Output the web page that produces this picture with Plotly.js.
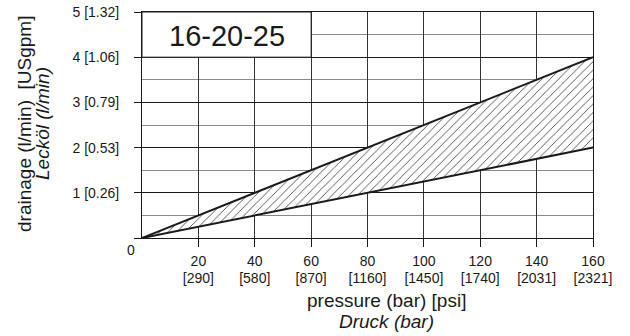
<!DOCTYPE html>
<html><head><meta charset="utf-8">
<script src="https://cdn.plot.ly/plotly-3.0.1.min.js"></script>
<style>html,body{margin:0;padding:0;background:#fff}#c{width:630px;height:336px}</style>
</head><body><div id="c"></div>
<script>
const pressure = [0, 160];
const upperFlow = [0, 4];
const lowerFlow = [0, 2];
const xTickVals = [20, 40, 60, 80, 100, 120, 140, 160];
const xTickBar = ['20', '40', '60', '80', '100', '120', '140', '160'];
const xTickPsi = ['[290]', '[580]', '[870]', '[1160]', '[1450]', '[1740]', '[2031]', '[2321]'];
const yTickVals = [0, 1, 2, 3, 4, 5];
const yTickText = ['', '1 [0.26]', '2 [0.53]', '3 [0.79]', '4 [1.06]', '5 [1.32]'];
const chartLabel = '16-20-25';
const xTitle1 = 'pressure (bar) [psi]';
const xTitle2 = 'Druck (bar)';
const yTitle1 = 'drainage (l/min)  [USgpm]';
const yTitle2 = 'Leckö' + 'l (l/min)';

const F = 'Liberation Sans, Arial, sans-serif';
const C = '#1a1a1a';
const traces = [
  {x: pressure, y: lowerFlow, mode: 'lines', line: {color: C, width: 2}, hoverinfo: 'skip'},
  {x: pressure, y: upperFlow, mode: 'lines', line: {color: C, width: 2}, fill: 'tonexty',
   fillcolor: 'rgba(0,0,0,0)',
   fillpattern: {shape: '/', size: 6, solidity: 0.12, fgcolor: C, bgcolor: 'white'}, hoverinfo: 'skip'},
  {x: pressure, y: lowerFlow, xaxis: 'x2', mode: 'lines', line: {width: 0}, opacity: 0, hoverinfo: 'skip'}
];
const layout = {
  width: 630, height: 336,
  margin: {l: 142, r: 37, t: 12, b: 98},
  paper_bgcolor: 'white', plot_bgcolor: 'white',
  showlegend: false,
  font: {family: F, size: 14, color: C},
  xaxis: {
    range: [0, 160], tickmode: 'array', tickvals: xTickVals, ticktext: xTickBar,
    showgrid: true, gridcolor: '#333', gridwidth: 1, zeroline: false,
    showline: true, linecolor: C, linewidth: 1, mirror: true,
    ticks: 'outside', ticklen: 8, tickcolor: C, ticklabelstandoff: 2,
    tickfont: {family: F, size: 14, color: C}, fixedrange: true
  },
  xaxis2: {
    overlaying: 'x', side: 'bottom', range: [0, 160], tickmode: 'array', tickvals: xTickVals, ticktext: xTickPsi,
    showgrid: false, zeroline: false, showline: false, ticks: '', ticklabelstandoff: 30,
    tickfont: {family: F, size: 14, color: C}, fixedrange: true
  },
  yaxis: {
    range: [0, 5], tickmode: 'array', tickvals: yTickVals, ticktext: yTickText,
    showgrid: true, gridcolor: C, gridwidth: 1, zeroline: false,
    minor: {dtick: 0.5, tick0: 0, showgrid: true, gridcolor: '#888', gridwidth: 1, ticks: ''},
    showline: true, linecolor: C, linewidth: 1, mirror: true,
    ticks: 'outside', ticklen: 7, tickcolor: C, ticklabelstandoff: 12,
    tickfont: {family: F, size: 14, color: C}, fixedrange: true
  },
  shapes: [
    {type: 'rect', xref: 'x', yref: 'y', x0: 0, x1: 60, y0: 4, y1: 5, fillcolor: 'white', line: {color: C, width: 1}, layer: 'above'}
  ],
  annotations: [
    {xref: 'x', yref: 'y', x: 30, y: 4.5, yshift: -1, text: chartLabel, showarrow: false, font: {family: F, size: 29, color: C}},
    {xref: 'paper', yref: 'paper', x: 0, y: 0, xanchor: 'center', yanchor: 'middle', xshift: -11, yshift: -12, text: '0', showarrow: false, font: {family: F, size: 14, color: C}},
    {xref: 'paper', yref: 'paper', x: 0, y: 0, xanchor: 'center', yanchor: 'middle', xshift: 244, yshift: -62, text: xTitle1, showarrow: false, font: {family: F, size: 19, color: C}},
    {xref: 'paper', yref: 'paper', x: 0, y: 0, xanchor: 'center', yanchor: 'middle', xshift: 244, yshift: -83, text: '<i>' + xTitle2 + '</i>', showarrow: false, font: {family: F, size: 19, color: C}},
    {xref: 'paper', yref: 'paper', x: 0, y: 0, xanchor: 'center', yanchor: 'middle', xshift: -118, yshift: 114, textangle: -90, text: yTitle1, showarrow: false, font: {family: F, size: 19, color: C}},
    {xref: 'paper', yref: 'paper', x: 0, y: 0, xanchor: 'center', yanchor: 'middle', xshift: -100, yshift: 114, textangle: -90, text: '<i>' + yTitle2 + '</i>', showarrow: false, font: {family: F, size: 19, color: C}}
  ]
};
Plotly.newPlot('c', traces, layout, {staticPlot: true, displayModeBar: false});
</script></body></html>
